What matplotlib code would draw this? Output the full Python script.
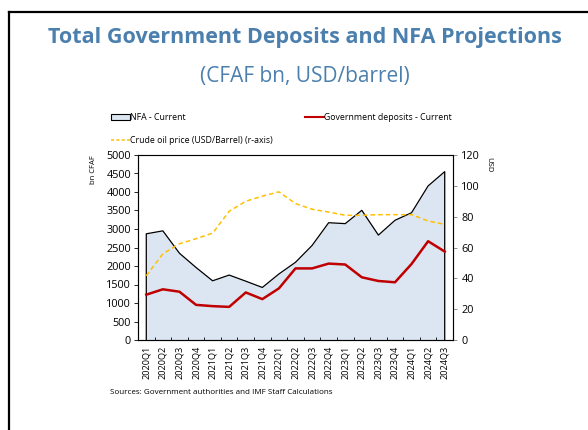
import numpy as np
import matplotlib
matplotlib.use("Agg")
import matplotlib.pyplot as plt
from matplotlib.lines import Line2D
from matplotlib.patches import Patch

plt.rcParams['font.family'] = ['Open Sans', 'DejaVu Sans']

quarters = ['2020Q1', '2020Q2', '2020Q3', '2020Q4', '2021Q1', '2021Q2', '2021Q3',
            '2021Q4', '2022Q1', '2022Q2', '2022Q3', '2022Q4', '2023Q1', '2023Q2',
            '2023Q3', '2023Q4', '2024Q1', '2024Q2', '2024Q3']
nfa = [2870, 2950, 2345, 1960, 1600, 1755, 1590, 1420, 1785, 2100, 2555, 3170,
       3145, 3505, 2835, 3235, 3440, 4165, 4550]
gov_dep = [1225, 1370, 1305, 950, 915, 895, 1285, 1105, 1395, 1935, 1935, 2065,
           2040, 1695, 1595, 1560, 2055, 2670, 2390]
oil = [41.7, 55.9, 62.4, 65.7, 69.3, 83.5, 90.0, 93.3, 96.1, 88.5, 84.8, 83.0,
       80.9, 80.9, 81.3, 81.3, 81.3, 77.2, 75.0]

title_col = '#4A7FAE'
fill_col = '#DCE6F2'
red = '#C00000'
gold = '#FFC000'

fig = plt.figure(figsize=(5.88, 4.30), dpi=100)
fig.text(0.519, 0.913, 'Total Government Deposits and NFA Projections', ha='center',
         va='center', fontsize=15.5, fontweight='bold', color=title_col)
fig.text(0.519, 0.823, '(CFAF bn, USD/barrel)', ha='center', va='center',
         fontsize=15, color=title_col)

# partial frame around the panel
fig.add_artist(Line2D([9/588, 9/588], [0, 1 - 12/430], color='black', lw=1.6,
                      transform=fig.transFigure))
fig.add_artist(Line2D([9/588, 1], [1 - 12/430, 1 - 12/430], color='black', lw=1.6,
                      transform=fig.transFigure))

ax = fig.add_axes([138/588, 90/430, 315/588, 185/430])
x = np.arange(len(quarters))

ax.fill_between(x, 0, nfa, color=fill_col, lw=0)
ax.plot(np.r_[x[0], x, x[-1]], np.r_[0, nfa, 0], color='black', lw=0.9)
ax.plot(x, gov_dep, color=red, lw=1.8)

ax.set_xlim(-0.5, len(quarters) - 0.5)
ax.set_ylim(0, 5000)
ax.set_yticks(np.arange(0, 5001, 500))
ax.set_xticks(x)
ax.set_xticklabels(quarters, rotation=90, fontsize=6.6)
ax.set_xticks(np.arange(-0.5, len(quarters), 1), minor=True)
ax.tick_params(axis='x', which='major', length=0, pad=4)
ax.tick_params(axis='x', which='minor', direction='in', length=2.5, width=0.6)
ax.tick_params(axis='y', labelsize=7.8, length=3, width=0.6, pad=2)
ax.set_ylabel('bn CFAF', fontsize=5.5, rotation=90)
ax.yaxis.set_label_coords(-0.13, 0.92)
for s in ['left', 'bottom']:
    ax.spines[s].set_color('#404040')
for s in ['top', 'right']:
    ax.spines[s].set_color('#808080')
for s in ax.spines.values():
    s.set_linewidth(0.8)

ax2 = ax.twinx()
ax2.plot(x, oil, color=gold, lw=1.1, ls=(0, (3, 2)))
ax2.set_ylim(0, 120)
ax2.set_yticks(np.arange(0, 121, 20))
ax2.tick_params(axis='y', labelsize=7.8, length=3, width=0.6, pad=3, color='#808080')
ax2.set_ylabel('USD', fontsize=5.5, rotation=270)
ax2.yaxis.set_label_coords(1.125, 0.95)

handles = [Patch(facecolor=fill_col, edgecolor='black', lw=0.8),
           Line2D([], [], color=gold, lw=1.1, ls=(0, (2, 1.5))),
           Line2D([], [], color=red, lw=1.5)]
labels = ['NFA - Current', 'Crude oil price (USD/Barrel) (r-axis)',
          'Government deposits - Current']
fig.legend(handles, labels, ncol=2, loc='upper left', bbox_to_anchor=(111/588, 1 - 113/430),
           frameon=False, fontsize=6.3, handlelength=2.2, handletextpad=0.0,
           columnspacing=3.6, labelspacing=1.6, borderaxespad=0, borderpad=0)

fig.text(110/588, 1 - 393/430, 'Sources: Government authorities and IMF Staff Calculations',
         fontsize=5.8, va='center', ha='left')

fig.savefig('out.png', dpi=100)
